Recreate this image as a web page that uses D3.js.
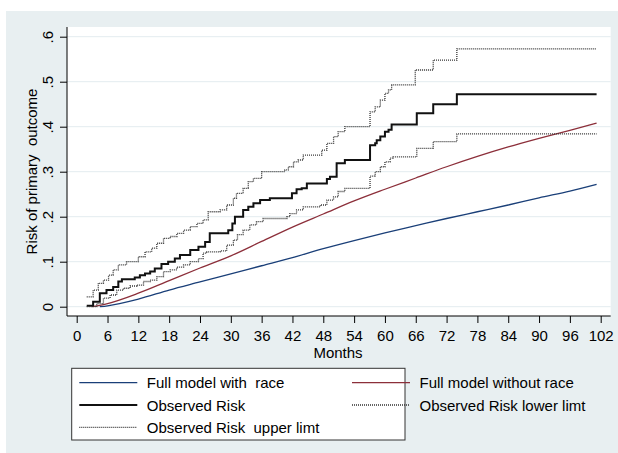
<!DOCTYPE html>
<html>
<head>
<meta charset="utf-8">
<script src="https://cdn.jsdelivr.net/npm/d3@7"></script>
<style>
  body { margin: 0; background: #fff; }
  text { font-family: "Liberation Sans", Arial, sans-serif; }
</style>
</head>
<body>
<svg id="chart" width="618" height="453"></svg>
<script>
// ---- data ----
let xTicks = [0, 6, 12, 18, 24, 30, 36, 42, 48, 54, 60, 66, 72, 78, 84, 90, 96, 102];
let yTicks = [0, 0.1, 0.2, 0.3, 0.4, 0.5, 0.6];

// smooth predicted curves
let withRaceMonths = [4.5, 6, 12, 18, 24, 30, 36, 42, 48, 54, 60, 66, 72, 78, 84, 90, 96, 101.2];
let withRaceRisk   = [0, 0.002, 0.017, 0.037, 0.055, 0.073, 0.091, 0.109, 0.129, 0.147, 0.164, 0.180, 0.196, 0.211, 0.226, 0.242, 0.257, 0.272];

let withoutRaceMonths = [3, 6, 12, 18, 24, 30, 36, 42, 48, 54, 60, 66, 72, 78, 84, 90, 96, 101.2];
let withoutRaceRisk   = [0, 0.007, 0.030, 0.058, 0.086, 0.113, 0.145, 0.177, 0.206, 0.235, 0.261, 0.286, 0.311, 0.334, 0.355, 0.374, 0.392, 0.408];

// step curves (value holds from that month on)
let observedMonths = [1.95, 3.2, 4.5, 5.8, 7.1, 8.1, 8.8, 11.3, 12.3, 13.3, 14.3, 15.2, 16.5, 17.8, 19.1, 20.1, 22.1, 23.7, 25.0, 25.9, 29.5, 30.3, 30.8, 32.4, 33.4, 34.4, 35.7, 37.6, 41.9, 42.8, 43.8, 44.8, 48.7, 49.3, 50.6, 52.2, 57.1, 58.1, 58.4, 59.1, 60.0, 60.7, 61.3, 66.2, 69.4, 74.0, 101.2];
let observedRisk   = [0.002, 0.011, 0.030, 0.037, 0.044, 0.056, 0.061, 0.065, 0.070, 0.074, 0.078, 0.085, 0.095, 0.100, 0.107, 0.115, 0.126, 0.133, 0.144, 0.163, 0.170, 0.185, 0.200, 0.215, 0.222, 0.230, 0.237, 0.241, 0.252, 0.261, 0.263, 0.274, 0.284, 0.289, 0.319, 0.326, 0.359, 0.363, 0.370, 0.378, 0.389, 0.393, 0.405, 0.430, 0.450, 0.472, 0.472];

let lowerMonths = [1.95, 3.9, 5.2, 6.5, 7.8, 9.1, 10.4, 11.7, 13.0, 14.3, 15.6, 16.9, 18.2, 19.5, 20.8, 22.1, 23.7, 24.6, 25.3, 27.9, 29.2, 30.5, 31.3, 32.4, 33.7, 35.0, 36.3, 40.9, 41.5, 42.8, 44.1, 47.4, 48.7, 50.0, 50.9, 52.2, 57.1, 58.1, 59.1, 60.0, 61.0, 61.6, 66.2, 69.4, 74.0, 101.2];
let lowerRisk   = [0.000, 0.007, 0.019, 0.026, 0.037, 0.041, 0.046, 0.048, 0.056, 0.059, 0.067, 0.078, 0.082, 0.088, 0.093, 0.100, 0.107, 0.119, 0.122, 0.124, 0.137, 0.148, 0.160, 0.170, 0.182, 0.189, 0.196, 0.200, 0.207, 0.215, 0.222, 0.226, 0.237, 0.244, 0.256, 0.263, 0.290, 0.300, 0.311, 0.322, 0.330, 0.333, 0.352, 0.367, 0.384, 0.384];

let upperMonths = [1.95, 3.2, 4.2, 5.2, 6.2, 7.1, 8.1, 9.7, 12.0, 13.3, 14.6, 15.6, 16.9, 18.2, 19.5, 20.8, 22.1, 23.4, 24.6, 25.6, 27.9, 29.2, 30.5, 31.1, 32.4, 33.4, 34.4, 36.0, 40.5, 41.2, 42.2, 43.1, 44.1, 47.7, 48.7, 50.0, 50.9, 52.2, 57.1, 58.1, 59.1, 60.0, 60.7, 61.3, 65.9, 69.4, 74.0, 101.2];
let upperRisk   = [0.022, 0.037, 0.052, 0.059, 0.070, 0.082, 0.093, 0.100, 0.111, 0.122, 0.130, 0.141, 0.152, 0.156, 0.163, 0.170, 0.178, 0.185, 0.193, 0.211, 0.215, 0.226, 0.241, 0.252, 0.263, 0.278, 0.285, 0.300, 0.304, 0.311, 0.322, 0.326, 0.337, 0.348, 0.363, 0.378, 0.389, 0.400, 0.433, 0.444, 0.459, 0.474, 0.482, 0.493, 0.526, 0.548, 0.573, 0.573];

let legendLabels = ["Full model with  race", "Full model without race", "Observed Risk", "Observed Risk lower limt", "Observed Risk  upper limt"];

// ---- drawing ----
let svg = d3.select("#chart");
let plot = {left: 67, top: 27, right: 610.7, bottom: 316};

let x = d3.scaleLinear().domain([0, 102]).range([76.7, 600.7]);
let y = d3.scaleLinear().domain([0, 0.6]).range([306.7, 36.7]);

// backgrounds
svg.append("rect").attr("x", 6).attr("y", 11).attr("width", 612).attr("height", 442).attr("fill", "#e8eff1");
svg.append("rect").attr("x", plot.left).attr("y", plot.top)
  .attr("width", plot.right - plot.left).attr("height", plot.bottom - plot.top).attr("fill", "#fff");

// grid
svg.append("g").selectAll("line").data(yTicks).enter().append("line")
  .attr("x1", plot.left).attr("x2", plot.right)
  .attr("y1", d => y(d)).attr("y2", d => y(d))
  .attr("stroke", "#e3ecef").attr("stroke-width", 1);

// axes
let xAxis = svg.append("g").attr("transform", "translate(0," + plot.bottom + ")")
  .call(d3.axisBottom(x).tickValues(xTicks).tickSize(7).tickFormat(d3.format("d")));
xAxis.select(".domain").remove();
xAxis.selectAll(".tick line").attr("stroke", "#000");
xAxis.selectAll(".tick text").attr("y", 25).attr("dy", 0)
  .attr("font-size", 15).attr("font-family", "Liberation Sans, Arial").attr("fill", "#000");

let yFmt = d => d === 0 ? "0" : d3.format(".1f")(d).replace(/^0/, "");
let yAxis = svg.append("g").attr("transform", "translate(" + plot.left + ",0)")
  .call(d3.axisLeft(y).tickValues(yTicks).tickSize(7).tickFormat(yFmt));
yAxis.select(".domain").remove();
yAxis.selectAll(".tick line").attr("stroke", "#000");
yAxis.selectAll(".tick text")
  .attr("x", 0).attr("dy", 0).attr("text-anchor", "middle")
  .attr("transform", "translate(-14,0) rotate(-90)")
  .attr("font-size", 15).attr("font-family", "Liberation Sans, Arial").attr("fill", "#000");

svg.append("line").attr("x1", plot.left).attr("x2", plot.right)
  .attr("y1", plot.bottom).attr("y2", plot.bottom).attr("stroke", "#000");
svg.append("line").attr("x1", plot.left).attr("x2", plot.left)
  .attr("y1", plot.top).attr("y2", plot.bottom).attr("stroke", "#000");

// axis titles
svg.append("text").attr("x", 338).attr("y", 357.5).attr("text-anchor", "middle")
  .attr("font-size", 15).text("Months");
svg.append("text").attr("transform", "translate(36.5,171.5) rotate(-90)")
  .attr("text-anchor", "middle").attr("font-size", 15).style("white-space", "pre")
  .text("Risk of primary  outcome");

// series
let smooth = d3.line().x(d => x(d[0])).y(d => y(d[1])).curve(d3.curveMonotoneX);
let step = d3.line().x(d => x(d[0])).y(d => y(d[1])).curve(d3.curveStepAfter);
let zip = (a, b) => a.map((m, i) => [m, b[i]]);

let series = [
  {name: legendLabels[0], pts: zip(withRaceMonths, withRaceRisk), gen: smooth, color: "#1a3f78", width: 1.3, dash: null},
  {name: legendLabels[1], pts: zip(withoutRaceMonths, withoutRaceRisk), gen: smooth, color: "#8c2f3a", width: 1.3, dash: null},
  {name: legendLabels[2], pts: zip(observedMonths, observedRisk), gen: step, color: "#111", width: 2, dash: null},
  {name: legendLabels[3], pts: zip(lowerMonths, lowerRisk), gen: step, color: "#333", width: 1.3, dash: "1,1"},
  {name: legendLabels[4], pts: zip(upperMonths, upperRisk), gen: step, color: "#333", width: 1.3, dash: "1,1"}
];

svg.append("g").selectAll("path").data(series).enter().append("path")
  .attr("d", d => d.gen(d.pts))
  .attr("fill", "none")
  .attr("stroke", d => d.color)
  .attr("stroke-width", d => d.width)
  .attr("stroke-dasharray", d => d.dash);

// legend
svg.append("rect").attr("x", 71.7).attr("y", 368.3).attr("width", 333.3).attr("height", 71.7)
  .attr("fill", "#fff").attr("stroke", "#333").attr("stroke-width", 1);

let colX = [79.3, 352];
let rowY = [382.7, 405, 427.3];
let legend = svg.append("g").selectAll("g").data(series).enter().append("g")
  .attr("transform", (d, i) => "translate(" + colX[i % 2] + "," + rowY[Math.floor(i / 2)] + ")");

legend.append("line").attr("x1", 0).attr("x2", 58).attr("y1", 0).attr("y2", 0)
  .attr("stroke", d => d.color)
  .attr("stroke-width", d => d.width)
  .attr("stroke-dasharray", d => d.dash);

legend.append("text").attr("x", 67.5).attr("y", 5.5)
  .attr("font-size", 15).style("white-space", "pre")
  .text(d => d.name);
</script>
</body>
</html>
